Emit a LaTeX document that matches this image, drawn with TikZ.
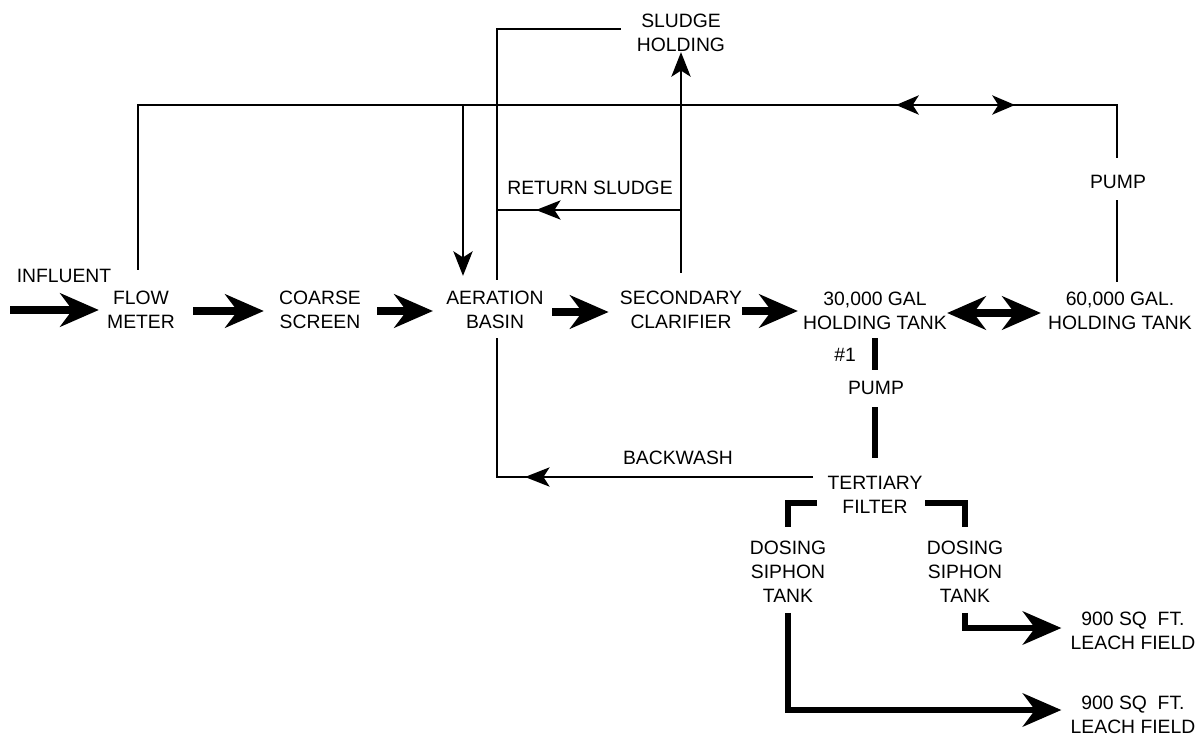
\documentclass[tikz,border=0pt]{standalone}
\usepackage{fontspec}
\setmainfont{Liberation Sans}
\usetikzlibrary{arrows.meta,calc,positioning}

\tikzset{
  lbl/.style={align=center, inner sep=0pt, font=\fontsize{11}{13.6}\selectfont},
  pipe/.style={line width=1pt},
  pipeto/.style={pipe, -{Stealth[length=14pt,width=11pt,inset=3.5pt]}},
  pipeboth/.style={pipe, {Stealth[length=13pt,width=11pt,inset=3.5pt]}-{Stealth[length=13pt,width=11pt,inset=3.5pt]}},
  flowto/.style={line width=4pt, -{Stealth[length=22pt,width=19pt,inset=7pt]}},
  flowboth/.style={line width=4pt, {Stealth[length=22pt,width=19pt,inset=7pt]}-{Stealth[length=22pt,width=19pt,inset=7pt]}},
  heavy/.style={line width=3pt},
  heavyto/.style={line width=3pt, -{Stealth[length=22pt,width=19pt,inset=7pt]}},
}

\begin{document}
\begin{tikzpicture}[x=0.02cm, y=-0.02cm]
    \useasboundingbox (0,0) rectangle (1203,736);

    % Main stream
    \node[lbl] (influent) at (64,276) {INFLUENT};
    \node[lbl] (flow) at (141,310) {FLOW\\METER};
    \node[lbl] (coarse) at (320,310) {COARSE\\SCREEN};
    \node[lbl] (aer) at (495,310) {AERATION\\BASIN};
    \node[lbl] (sec) at (681,310) {SECONDARY\\CLARIFIER};
    \node[lbl] (tank30) at (875,311) {30,000 GAL\\HOLDING TANK};
    \node[lbl] (tank60) at (1120,311) {60,000 GAL.\\HOLDING TANK};

    % Upper labels
    \node[lbl] (sludge) at (681,33) {SLUDGE\\HOLDING};
    \node[lbl] (retsl) at (590,188) {RETURN SLUDGE};
    \node[lbl] (pumpR) at (1118,182) {PUMP};

    % Lower labels
    \node[lbl] (num1) at (845,355) {\#1};
    \node[lbl] (pumpB) at (876,388) {PUMP};
    \node[lbl] (backwash) at (678,458) {BACKWASH};
    \node[lbl] (tert) at (875,495) {TERTIARY\\FILTER};
    \node[lbl] (dosL) at (788,572) {DOSING\\SIPHON\\TANK};
    \node[lbl] (dosR) at (965,572) {DOSING\\SIPHON\\TANK};
    \node[lbl] (leachR) at (1133,631) {900 SQ\ \ FT.\\LEACH FIELD};
    \node[lbl] (leachL) at (1133,715) {900 SQ\ \ FT.\\LEACH FIELD};

    % Bends and free ends
    \coordinate (inlet) at (10,310);
    \coordinate (topL) at (138,105);
    \coordinate (topR) at (1117,105);
    \coordinate (sludgeL) at (497,29);
    \coordinate (sludgeR) at (621,29);
    \coordinate (retR) at (681,210);
    \coordinate (retL) at (497,210);
    \coordinate (bwL) at (497,477);
    \coordinate (bwR) at (813,477);

    % Main flow arrows
    \draw[flowto] (inlet) -- ($(flow.west)+(-8,0)$);
    \draw[flowto] ($(flow.east)+(18,1)$) -- ($(coarse.west)+(-15,1)$);
    \draw[flowto] ($(coarse.east)+(16,1)$) -- ($(aer.west)+(-13,1)$);
    \draw[flowto] ($(aer.east)+(8,2)$) -- ($(sec.west)+(-11,2)$);
    \draw[flowto] ($(sec.east)+(0,1)$) -- ($(tank30.west)+(-5,0)$);
    \draw[flowboth] ($(tank30.east)+(0,2)$) -- ($(tank60.west)+(-7,2)$);

    % Recirculation over the top
    \draw[pipe] ($(tank60.north)+(-3,-10)$) -- ($(pumpR.south)+(-1,11)$);
    \draw[pipe] ($(pumpR.north)+(-1,-17)$) -- (topR) -- (topL) -- ($(flow.north)+(-3,-21)$);
    \draw[pipeboth] (896,105) -- (1015,105);
    \draw[pipeto] (463,105) -- ($(aer.north)+(-32,-15)$);

    % Sludge lines
    \draw[pipe] ($(aer.north)+(2,-11)$) -- (sludgeL) -- (sludgeR);
    \draw[pipeto] ($(sec.north)+(0,-18)$) -- (sludge.south);
    \draw[pipe] (retR) -- (retL);
    \draw[pipeto] (retR) -- (536,210);
    \draw[pipe] ($(aer.south)+(2,9)$) -- (bwL) -- (bwR);
    \draw[pipeto] (bwR) -- (525,477);

    % Pump and tertiary filter
    \draw[heavy] ($(tank30.south)+(0,8)$) -- ($(pumpB.north)+(-1,-11)$);
    \draw[heavy] ($(pumpB.south)+(-1,12)$) -- ($(tert.north)+(0,-18)$);
    \draw[heavy] (817,503) -- (dosL.north |- 0,503) -- ($(dosL.north)+(0,-14)$);
    \draw[heavy] (925,503) -- (dosR.north |- 0,503) -- ($(dosR.north)+(0,-14)$);

    % To the leach fields
    \draw[heavyto] ($(dosR.south)+(0,10)$) |- ($(leachR.west)+(-9,-3)$);
    \draw[heavyto] ($(dosL.south)+(0,10)$) |- ($(leachL.west)+(-9,-5)$);
\end{tikzpicture}
\end{document}
